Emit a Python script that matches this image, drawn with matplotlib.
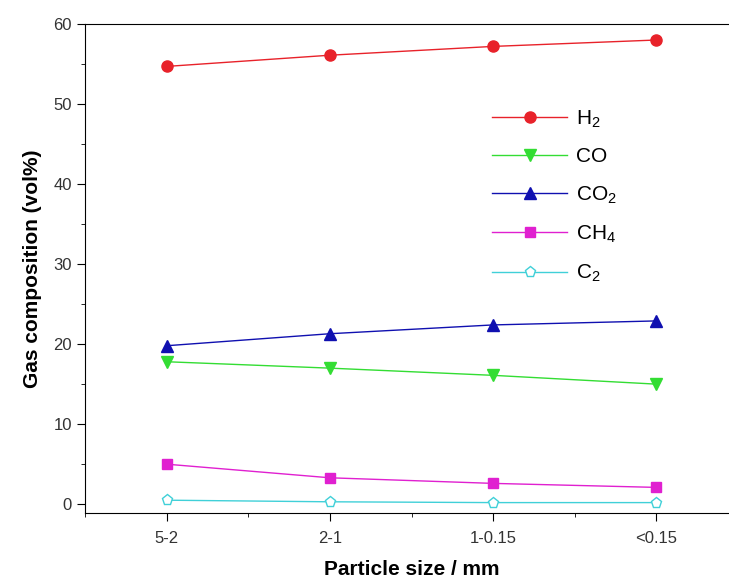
import matplotlib
matplotlib.use("Agg")
from matplotlib import pyplot as plt
from matplotlib.ticker import MultipleLocator

plt.rcParams['font.family'] = ['Liberation Sans', 'DejaVu Sans']
plt.rcParams['mathtext.default'] = 'regular'

# datos
tamanos = ["5-2", "2-1", "1-0.15", "<0.15"]
h2 = [54.7, 56.1, 57.2, 58.0]
co = [17.8, 17.0, 16.1, 15.0]
co2 = [19.8, 21.3, 22.4, 22.9]
ch4 = [5.0, 3.3, 2.6, 2.1]
c2 = [0.5, 0.3, 0.2, 0.2]

fig = plt.figure(figsize=(7.29, 5.81), dpi=100)
ax = fig.add_axes([85/729, 68/581, 653/729, 489/581])

x = list(range(len(tamanos)))
ax.plot(x, h2, color="#e8222a", lw=1, marker="o", ms=8, label="H$_2$")
ax.plot(x, co, color="#33dd33", lw=1, marker="v", ms=8, label="CO")
ax.plot(x, co2, color="#1010b0", lw=1, marker="^", ms=8, label="CO$_2$")
ax.plot(x, ch4, color="#e020d0", lw=1, marker="s", ms=7, label="CH$_4$")
ax.plot(x, c2, color="#40d0d8", lw=1, marker="p", ms=8, mfc="white", label="C$_2$")

ax.set_xlim(-0.5, 3.5)
ax.set_ylim(-1.1, 60)
ax.set_xticks(x)
ax.set_xticklabels(tamanos)
ax.xaxis.set_minor_locator(MultipleLocator(0.5))
ax.yaxis.set_major_locator(MultipleLocator(10))
ax.yaxis.set_minor_locator(MultipleLocator(5))
ax.tick_params(which="both", direction="out", top=False, right=False)
ax.tick_params(which="major", length=6, labelsize=12, labelcolor="#333333")
ax.tick_params(axis="x", which="major", pad=7)
ax.tick_params(which="minor", length=3)

ax.set_xlabel("Particle size / mm", fontsize=15, fontweight="bold", labelpad=10)
ax.set_ylabel("Gas composition (vol%)", fontsize=15, fontweight="bold", labelpad=8)

ax.legend(loc="upper left", bbox_to_anchor=(0.595, 0.866), frameon=False,
          fontsize=15, handlelength=3.6, handletextpad=0.4, labelspacing=0.86)

fig.savefig("out.png", dpi=100)
